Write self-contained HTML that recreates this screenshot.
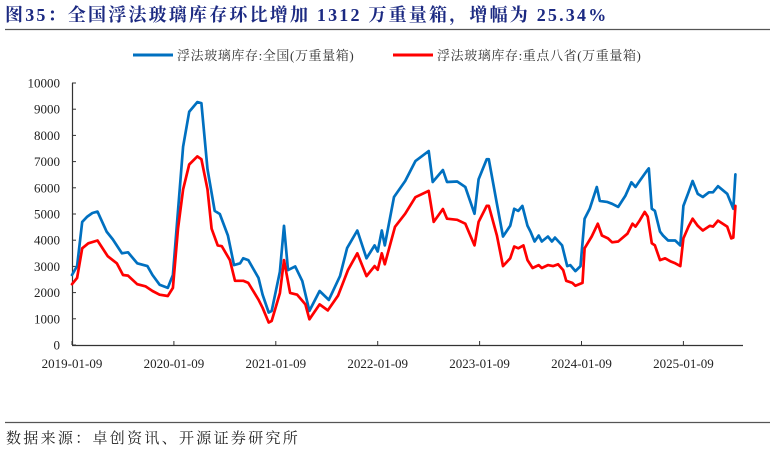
<!DOCTYPE html>
<html><head><meta charset="utf-8"><style>
html,body{margin:0;padding:0;background:#fff;}
svg{display:block;}
</style></head><body>
<svg id="chart" width="774" height="450" xmlns="http://www.w3.org/2000/svg">
<text x="5" y="21" font-family="Liberation Serif, Noto Serif CJK SC, serif" font-weight="bold" font-size="18" letter-spacing="2.2" fill="#1c2a82">图35：全国浮法玻璃库存环比增加 1312 万重量箱，增幅为 25.34%</text>
<line x1="5" y1="29.5" x2="770" y2="29.5" stroke="#555" stroke-width="1.2"/>
<g>
<g>
<line x1="133" y1="55" x2="173" y2="55" stroke="#0070c0" stroke-width="3"/>
<text x="177" y="60" font-family="Liberation Serif, Noto Serif CJK SC, serif" font-size="13" letter-spacing="0.6" fill="#333">浮法玻璃库存:全国(万重量箱)</text>
</g>
<g>
<line x1="393" y1="55" x2="433" y2="55" stroke="#ff0000" stroke-width="3"/>
<text x="437" y="60" font-family="Liberation Serif, Noto Serif CJK SC, serif" font-size="13" letter-spacing="0.6" fill="#333">浮法玻璃库存:重点八省(万重量箱)</text>
</g>
</g>
<g id="axes"></g>
<g id="series"></g>
<line x1="5" y1="422.5" x2="770" y2="422.5" stroke="#555" stroke-width="1.2"/>
<text x="6" y="443" font-family="Liberation Serif, Noto Serif CJK SC, serif" font-size="15" letter-spacing="2.3" fill="#222">数据来源：卓创资讯、开源证券研究所</text>
</svg>
<script>
const yTicks=[0,1000,2000,3000,4000,5000,6000,7000,8000,9000,10000];
const xTickLabels=["2019-01-09","2020-01-09","2021-01-09","2022-01-09","2023-01-09","2024-01-09","2025-01-09"];
const xTickYears=[0,1,2,3,4,5,6];
const nationalYears=[0,0.05,0.10,0.15,0.20,0.25,0.34,0.40,0.49,0.55,0.64,0.74,0.79,0.86,0.94,0.99,1.09,1.15,1.23,1.27,1.33,1.40,1.45,1.53,1.59,1.65,1.68,1.73,1.83,1.87,1.93,1.96,2.04,2.08,2.12,2.19,2.26,2.33,2.43,2.52,2.63,2.70,2.80,2.89,2.97,3.00,3.04,3.07,3.16,3.27,3.37,3.50,3.54,3.64,3.68,3.78,3.86,3.95,3.99,4.07,4.09,4.17,4.23,4.30,4.34,4.38,4.42,4.47,4.50,4.54,4.58,4.61,4.67,4.71,4.74,4.81,4.86,4.89,4.94,4.99,5.03,5.08,5.15,5.18,5.25,5.30,5.36,5.43,5.49,5.53,5.57,5.64,5.66,5.69,5.72,5.77,5.80,5.85,5.92,5.97,6.00,6.05,6.09,6.14,6.19,6.25,6.29,6.34,6.43,6.49,6.51];
const nationalValues=[2670,3010,4700,4900,5040,5090,4330,4030,3500,3540,3120,3010,2670,2300,2180,2670,7570,8900,9270,9230,6710,5120,5000,4180,3050,3120,3310,3240,2560,1920,1240,1300,2800,4550,2860,3000,2440,1300,2060,1720,2630,3700,4370,3310,3800,3570,4370,3800,5650,6260,7020,7400,6220,6680,6220,6240,6030,5010,6330,7090,7090,5390,4140,4550,5200,5120,5310,4550,4330,3950,4180,3950,4140,3950,4100,3800,3010,3050,2820,3010,4820,5200,6030,5500,5460,5390,5270,5690,6210,6030,6260,6640,6740,5200,5120,4330,4180,3990,3990,3800,5310,5830,6260,5770,5650,5830,5830,6060,5770,5200,6510];
const provincesYears=[0,0.05,0.10,0.16,0.25,0.35,0.44,0.50,0.55,0.64,0.72,0.79,0.86,0.94,0.99,1.04,1.09,1.15,1.23,1.27,1.33,1.37,1.43,1.47,1.55,1.60,1.68,1.73,1.83,1.87,1.93,1.96,2.04,2.08,2.14,2.21,2.29,2.33,2.43,2.51,2.61,2.71,2.80,2.89,2.97,3.00,3.04,3.07,3.17,3.27,3.37,3.50,3.55,3.64,3.68,3.78,3.86,3.95,3.99,4.07,4.09,4.17,4.23,4.30,4.34,4.38,4.43,4.47,4.52,4.58,4.61,4.67,4.72,4.77,4.82,4.85,4.91,4.94,5.01,5.03,5.10,5.16,5.20,5.26,5.30,5.36,5.45,5.50,5.53,5.57,5.62,5.65,5.69,5.72,5.77,5.82,5.87,5.92,5.97,6.00,6.05,6.09,6.14,6.19,6.26,6.29,6.34,6.43,6.47,6.49,6.51];
const provincesValues=[2320,2560,3690,3880,3990,3390,3120,2670,2650,2320,2240,2060,1920,1870,2180,4440,5940,6890,7200,7090,5940,4440,3800,3770,3240,2450,2450,2370,1730,1420,860,920,1980,3240,1990,1920,1550,980,1550,1320,1880,2870,3500,2630,3010,2870,3500,3080,4510,5010,5640,5880,4700,5190,4820,4780,4630,3800,4700,5310,5310,4180,3010,3310,3760,3690,3800,3240,2940,3050,2940,3050,3010,3080,2860,2450,2370,2260,2370,3690,4140,4630,4180,4070,3920,3950,4250,4630,4520,4750,5080,4900,3880,3800,3240,3310,3200,3120,3010,4070,4520,4820,4550,4370,4550,4520,4750,4520,4070,4100,5310];

const X0=72,XPER=101.9,XEND=743,Y0=345,YTOP=83,YMAX=10000;
function xs(t){return X0+t*XPER;}
function ys(v){return Y0-(v/YMAX)*(Y0-YTOP);}
const NS='http://www.w3.org/2000/svg';
function mk(tag,attrs){const e=document.createElementNS(NS,tag);for(const k in attrs)e.setAttribute(k,attrs[k]);return e;}
const axes=document.getElementById('axes');
const yAxis=mk('line',{x1:X0+0.5,y1:YTOP,x2:X0+0.5,y2:Y0,stroke:'#333','stroke-width':1.2});


axes.appendChild(yAxis);
const xAxis=mk('line',{x1:X0,y1:Y0+0.5,x2:XEND,y2:Y0+0.5,stroke:'#333','stroke-width':1.2});


axes.appendChild(xAxis);
yTicks.forEach(v=>{
  const y=ys(v);
  const tk=mk('line',{x1:X0,y1:y,x2:X0+4,y2:y,stroke:'#333','stroke-width':1});
  
  
  axes.appendChild(tk);
  const t=mk('text',{x:60,y:y+4.5,'text-anchor':'end','font-family':'Liberation Serif, serif','font-size':13,fill:'#222'});
  t.textContent=String(v);
  
  
  axes.appendChild(t);
});
xTickYears.forEach((yr,i)=>{
  const x=xs(yr);
  const tk=mk('line',{x1:x,y1:Y0,x2:x,y2:Y0-4,stroke:'#333','stroke-width':1});
  
  
  axes.appendChild(tk);
  const t=mk('text',{x:x,y:368,'text-anchor':'middle','font-family':'Liberation Serif, serif','font-size':13,fill:'#222'});
  t.textContent=xTickLabels[i];
  
  
  axes.appendChild(t);
});
const series=document.getElementById('series');
function drawLine(years,vals,color,name){
  const d=years.map((t,i)=>(i?'L':'M')+xs(t).toFixed(1)+' '+ys(vals[i]).toFixed(1)).join(' ');
  const p=mk('path',{d:d,fill:'none',stroke:color,'stroke-width':2.7,'stroke-linejoin':'round','stroke-linecap':'round'});
  
  
  series.appendChild(p);
}
drawLine(nationalYears,nationalValues,'#0070c0','national-inventory-line');
drawLine(provincesYears,provincesValues,'#ff0000','eight-provinces-inventory-line');
</script>
</body></html>
